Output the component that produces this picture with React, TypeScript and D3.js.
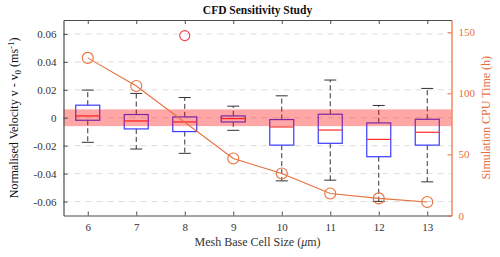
import React, { useEffect, useRef } from "react";
import * as d3 from "d3";

// mesh base cell sizes (um)
const cellSizes = [6, 7, 8, 9, 10, 11, 12, 13];
// box stats of normalised velocity per mesh size
const lowerWhisker = [-0.0176, -0.0224, -0.0255, -0.0090, -0.0452, -0.0447, -0.0599, -0.0459];
const q1 = [-0.0018, -0.0080, -0.0099, -0.0030, -0.0196, -0.0183, -0.0279, -0.0196];
const medians = [0.0013, -0.0023, -0.0030, -0.0006, -0.0066, -0.0088, -0.0155, -0.0104];
const q3 = [0.0090, 0.0023, 0.0006, 0.0013, -0.0013, 0.0025, -0.0037, -0.0011];
const upperWhisker = [0.0198, 0.0174, 0.0145, 0.0083, 0.0157, 0.0270, 0.0088, 0.0210];
const outliers = [{ x: 8, y: 0.0588 }];
// CPU time (h), no run recorded for 8
const cpuSizes = [6, 7, 9, 10, 11, 12, 13];
const cpuHours = [129, 106, 46.7, 34.4, 18, 14, 11];
const bandLimit = 0.006;
const leftTicks = [-0.06, -0.04, -0.02, 0, 0.02, 0.04, 0.06];
const rightTicks = [0, 50, 100, 150];

const W = 500, H = 257;
const orange = "#e5703c";
const axisCol = "#4d4d4d";
const textCol = "#333";

export default function App() {
  const ref = useRef<SVGSVGElement>(null);

  useEffect(() => {
    const svg = d3.select(ref.current);
    svg.selectAll("*").remove();
    const left = 63.5, right = 451.5, top = 20, bottom = 215.5;
    const font = "'Liberation Serif', 'Times New Roman', serif";

    const x = d3.scaleLinear().domain([5.5, 13.5]).range([left, right]);
    const y = d3.scaleLinear().domain([-0.07, 0.07]).range([bottom, top]);
    const y2 = d3.scaleLinear().domain([0, 160]).range([bottom, top]);

    // grid
    svg.append("g").selectAll("line").data(leftTicks).join("line")
      .attr("x1", left).attr("x2", right)
      .attr("y1", d => y(d)).attr("y2", d => y(d))
      .attr("stroke", "#d4d4d4").attr("stroke-width", 0.8)
      .attr("stroke-dasharray", "6,5");

    const bw = 12;
    const g = svg.append("g");
    cellSizes.forEach((c, i) => {
      const cx = x(c);
      // whiskers
      g.append("line").attr("x1", cx).attr("x2", cx)
        .attr("y1", y(q3[i])).attr("y2", y(upperWhisker[i]))
        .attr("stroke", "#333").attr("stroke-dasharray", "5,3");
      g.append("line").attr("x1", cx).attr("x2", cx)
        .attr("y1", y(q1[i])).attr("y2", y(lowerWhisker[i]))
        .attr("stroke", "#333").attr("stroke-dasharray", "5,3");
      [upperWhisker[i], lowerWhisker[i]].forEach(v => {
        g.append("line").attr("x1", cx - 6).attr("x2", cx + 6)
          .attr("y1", y(v)).attr("y2", y(v)).attr("stroke", "#333");
      });
      g.append("rect").attr("x", cx - bw).attr("width", bw * 2)
        .attr("y", y(q3[i])).attr("height", y(q1[i]) - y(q3[i]))
        .attr("fill", "none").attr("stroke", "#3b3bff").attr("stroke-width", 1.2);
      g.append("line").attr("x1", cx - bw).attr("x2", cx + bw)
        .attr("y1", y(medians[i])).attr("y2", y(medians[i]))
        .attr("stroke", "#ff2a2a").attr("stroke-width", 1.2);
    });
    g.selectAll("circle.out").data(outliers).join("circle")
      .attr("cx", d => x(d.x)).attr("cy", d => y(d.y)).attr("r", 5)
      .attr("fill", "none").attr("stroke", "#f23c50").attr("stroke-width", 1.1);

    // tolerance band
    svg.append("rect").attr("x", left).attr("width", right - left)
      .attr("y", y(bandLimit)).attr("height", y(-bandLimit) - y(bandLimit))
      .attr("fill", "#ff0000").attr("opacity", 0.35);

    // CPU time line
    const pts = cpuSizes.map((c, i) => [c, cpuHours[i]] as [number, number]);
    svg.append("path").datum(pts)
      .attr("d", d3.line<[number, number]>().x(d => x(d[0])).y(d => y2(d[1])))
      .attr("fill", "none").attr("stroke", orange).attr("stroke-width", 1.1);
    svg.append("g").selectAll("circle").data(pts).join("circle")
      .attr("cx", d => x(d[0])).attr("cy", d => y2(d[1])).attr("r", 5.5)
      .attr("fill", "none").attr("stroke", orange).attr("stroke-width", 1.1);

    // axes
    const styleAxis = (sel: any, col: string, tcol: string) => {
      sel.attr("font-family", font).attr("font-size", 11);
      sel.select(".domain").attr("stroke", col).attr("stroke-width", 1.2);
      sel.selectAll(".tick line").attr("stroke", col);
      sel.selectAll(".tick text").attr("fill", tcol).attr("font-family", font);
    };
    const ax = svg.append("g").attr("transform", `translate(0,${bottom})`)
      .call(d3.axisBottom(x).tickValues(cellSizes).tickSizeInner(-4).tickSizeOuter(0).tickPadding(8));
    styleAxis(ax, axisCol, textCol);
    const axTop = svg.append("g").attr("transform", `translate(0,${top})`)
      .call(d3.axisTop(x).tickValues(cellSizes).tickSizeInner(-4).tickSizeOuter(0).tickFormat(() => ""));
    styleAxis(axTop, axisCol, textCol);
    const ayl = svg.append("g").attr("transform", `translate(${left},0)`)
      .call(d3.axisLeft(y).tickValues(leftTicks).tickSizeInner(-4).tickSizeOuter(0).tickPadding(7)
        .tickFormat(d => (d === 0 ? "0" : d3.format(".2f")(d as number).replace("−", "-"))));
    styleAxis(ayl, axisCol, textCol);
    const ayr = svg.append("g").attr("transform", `translate(${right},0)`)
      .call(d3.axisRight(y2).tickValues(rightTicks).tickSizeInner(-4).tickSizeOuter(0).tickPadding(7));
    styleAxis(ayr, orange, orange);

    // labels
    svg.append("text").attr("x", (left + right) / 2).attr("y", 14)
      .attr("text-anchor", "middle").style("font-family", font)
      .style("font-size", "11.5px").style("font-weight", "bold").attr("fill", "#111")
      .text("CFD Sensitivity Study");

    const xl = svg.append("text").attr("x", (left + right) / 2).attr("y", 246)
      .attr("text-anchor", "middle").style("font-family", font)
      .style("font-size", "12px").attr("fill", textCol);
    xl.append("tspan").text("Mesh Base Cell Size (");
    xl.append("tspan").style("font-style", "italic").text("μ");
    xl.append("tspan").text("m)");

    const yl = svg.append("text")
      .attr("transform", `translate(18,${(top + bottom) / 2}) rotate(-90)`)
      .attr("text-anchor", "middle").style("font-family", font)
      .style("font-size", "12px").attr("fill", "#111");
    yl.append("tspan").text("Normalised Velocity v - v");
    yl.append("tspan").attr("dy", 3).style("font-size", "9px").text("0");
    yl.append("tspan").attr("dy", -3).text(" (ms");
    yl.append("tspan").attr("dy", -4).style("font-size", "9px").text("-1");
    yl.append("tspan").attr("dy", 4).text(")");

    svg.append("text")
      .attr("transform", `translate(490,${(top + bottom) / 2}) rotate(-90)`)
      .attr("text-anchor", "middle").style("font-family", font)
      .style("font-size", "12px").attr("fill", orange)
      .text("Simulation CPU Time (h)");
  }, []);

  return (
    <svg ref={ref} width={W} height={H}
      style={{ position: "absolute", left: 0, top: 0, background: "#fff" }} />
  );
}
